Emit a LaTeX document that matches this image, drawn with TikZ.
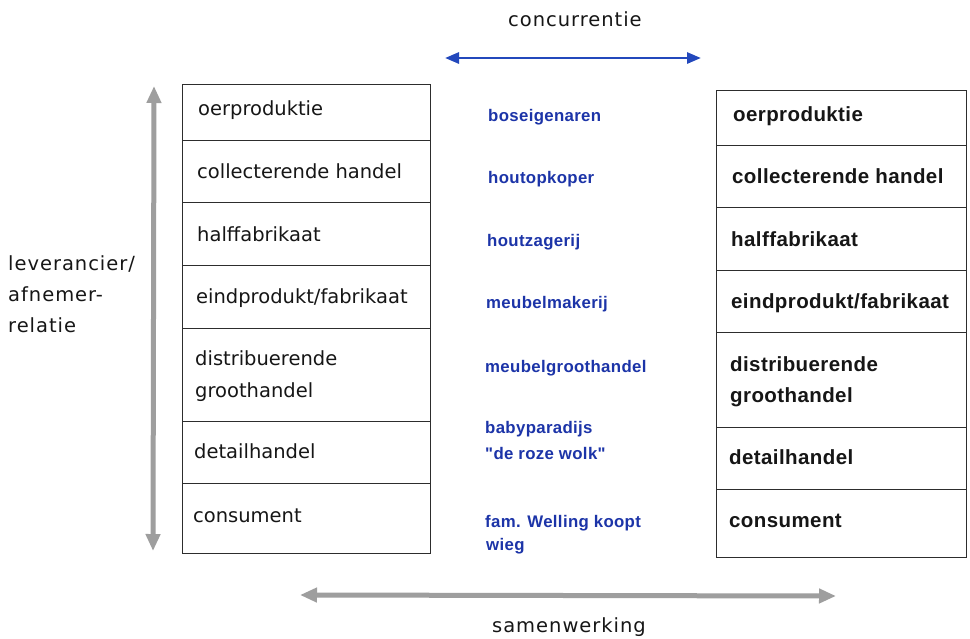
\documentclass[tikz,border=0pt]{standalone}
\usepackage{fontspec}
\usetikzlibrary{arrows.meta}
\newfontfamily\regfont{DejaVu Sans}
\newfontfamily\spacedfont{DejaVu Sans}[LetterSpace=5]
\newfontfamily\libfont{Liberation Sans}[LetterSpace=2]
\definecolor{txtblue}{RGB}{28,52,168}
\definecolor{arrblue}{RGB}{35,72,188}
\definecolor{arrgray}{RGB}{158,158,158}
\definecolor{txtblack}{RGB}{22,22,22}
\tikzset{
  cell/.style={draw=txtblack!90, line width=1pt, inner sep=0pt, outer sep=0pt, minimum width=#1},
  lbl/.style={anchor=base west, inner sep=0pt, text=txtblack, font=\regfont\fontsize{19.5}{23}\selectfont},
  slbl/.style={anchor=base west, inner sep=0pt, text=txtblack, font=\spacedfont\fontsize{19.5}{23}\selectfont},
  blbl/.style={anchor=base west, inner sep=0pt, text=txtblack, font=\libfont\bfseries\fontsize{20.5}{24}\selectfont},
  blu/.style={anchor=base west, inner sep=0pt, text=txtblue, font=\libfont\bfseries\fontsize{16.8}{20}\selectfont},
  bluearrow/.style={draw=arrblue, line width=2.8pt, {Triangle[length=14pt,width=11pt]}-{Triangle[length=14pt,width=11pt]}},
  grayarrow/.style={draw=arrgray, line width=5pt, {Triangle[length=17pt,width=14pt]}-{Triangle[length=17pt,width=14pt]}}
}
\begin{document}
\begin{tikzpicture}[x=1pt,y=-1pt]
\useasboundingbox[fill=white] (0,0) rectangle (970,638);
% left stack
\foreach \t/\b [count=\i] in {84/140,140/202,202/265,265/328,328/421,421/483,483/553}{
  \pgfmathsetmacro\h{\b-\t}
  \node[cell=248pt, minimum height=\h pt, anchor=north west] (L\i) at (182,\t) {};
}
% right stack
\foreach \t/\b [count=\i] in {90/145,145/207,207/270,270/332,332/427,427/489,489/557}{
  \pgfmathsetmacro\h{\b-\t}
  \node[cell=250pt, minimum height=\h pt, anchor=north west] (R\i) at (716,\t) {};
}
% left texts
\node[lbl] (lt1) at (198,115) {oerproduktie};
\node[lbl] (lt2) at (197,178) {collecterende handel};
\node[lbl] (lt3) at (197,241) {halffabrikaat};
\node[lbl] (lt4) at (196,303) {eindprodukt/fabrikaat};
\node[lbl] (lt5a) at (195,365) {distribuerende};
\node[lbl] (lt5b) at (195,397) {groothandel};
\node[lbl] (lt6) at (194,458) {detailhandel};
\node[lbl] (lt7) at (193,522) {consument};
% right texts
\node[blbl] (rt1) at (733,121) {oerproduktie};
\node[blbl] (rt2) at (732,183) {collecterende handel};
\node[blbl] (rt3) at (731,246) {halffabrikaat};
\node[blbl] (rt4) at (731,308) {eindprodukt/fabrikaat};
\node[blbl] (rt5a) at (730,371) {distribuerende};
\node[blbl] (rt5b) at (730,402) {groothandel};
\node[blbl] (rt6) at (729,464) {detailhandel};
\node[blbl] (rt7) at (729,527) {consument};
% blue middle texts
\node[blu] (b1) at (488,121) {boseigenaren};
\node[blu] (b2) at (488,183) {houtopkoper};
\node[blu] (b3) at (487,246) {houtzagerij};
\node[blu] (b4) at (486,308) {meubelmakerij};
\node[blu] (b5) at (485,372) {meubelgroothandel};
\node[blu] (b6a) at (485,433) {babyparadijs};
\node[blu] (b6b) at (485,459) {"de roze wolk"};
\node[blu] (b7a) at (485,527) {fam. Welling koopt};
\node[blu] (b7b) at (486,550) {wieg};
% side label
\node[slbl] (s1) at (8,270) {leverancier/};
\node[slbl] (s2) at (8,301) {afnemer-};
\node[slbl] (s3) at (8,332) {relatie};
% top / bottom labels
\node[slbl] (conc) at (508,26) {concurrentie};
\node[slbl] (samen) at (492,632) {samenwerking};
% arrows
\coordinate (cl) at (445,58);
\coordinate (cr) at (701,58);
\draw[bluearrow] (cl) -- (cr);
\coordinate (vt) at (154,86);
\coordinate (vb) at (153,551);
\draw[grayarrow] (vt) -- (vb);
\coordinate (hl) at (300,595);
\coordinate (hr) at (836,596);
\draw[grayarrow] (hl) -- (hr);
\end{tikzpicture}
\end{document}
